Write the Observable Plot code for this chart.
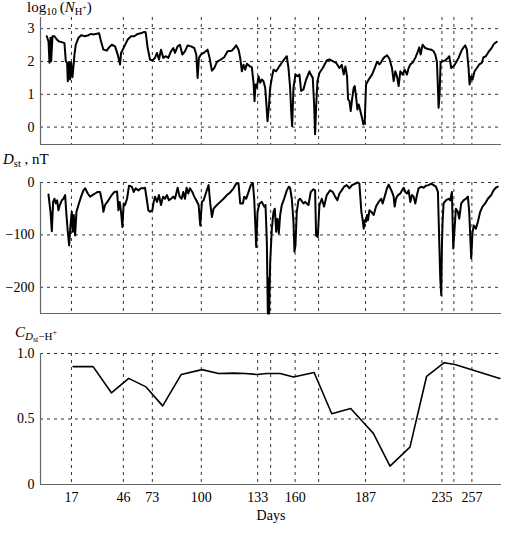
<!DOCTYPE html>
<html><head><meta charset="utf-8">
<script src="https://cdn.jsdelivr.net/npm/d3@7"></script>
<script src="https://cdn.jsdelivr.net/npm/@observablehq/plot@0.6"></script>
<style>body{margin:0;background:#fff;} #chart svg{display:block;}</style>
</head><body><div id="chart"></div>
<script>
// ---- data ----
const eventDays   = [18.6, 49.8, 67.2, 96.6, 130.5, 138.3, 153, 167.1, 195.3, 218.4, 241.2, 248.4, 259.2];
const eventLabels = ["17", "46", "73", "100", "133", "", "160", "", "187", "", "235", "", "257"];

const nhTicks  = [0, 1, 2, 3];
const dstTicks = [-200, -100, 0];
const corrTicks = [0, 0.5, 1];

const nhDays = [3.8,4.8,5.4,6.0,6.4,7.2,8.4,9.8,11.2,12.8,14.4,15.2,16.0,16.4,17.2,17.8,18.4,19.2,20.0,20.4,21.2,22.8,24.4,26.8,28.8,30.4,31.8,33.2,35.2,36.4,37.8,39.8,41.2,42.8,44.8,46.4,47.8,48.4,50.4,52.4,54.4,56.4,58.4,60.8,62.4,63.2,64.4,65.8,67.2,68.8,70.0,71.2,72.4,73.8,75.2,76.8,78.4,79.8,80.8,82.4,83.8,85.2,86.8,88.4,90.4,92.4,93.6,94.4,95.2,96.4,98,100.4,101.6,103,104.4,106,108.4,110.4,112.4,115,116.4,117.6,119,120,121,122,123,124,125.6,127,128,128.6,129.2,130,131,132,133,134,135,135.6,136.4,137.2,138,139,140,141.6,143.6,145.6,148,149,150,150.6,151.2,152,153.2,154.4,155.6,156.6,158,159.6,161.6,162.4,163.6,164.4,165,165.6,166.4,167.6,169.6,172,173.6,175.6,177.6,179.6,181,182.2,183.2,184.2,184.8,185.6,186.4,187.2,188.2,188.8,189.6,190.4,191.2,192.2,193.2,194,194.8,195.6,197.2,199.2,200.8,202.2,203.6,204.8,206.2,208.2,209.6,211.2,212.2,213.2,214.2,215.2,216.2,217.6,218.8,220.2,221.2,222.2,223.6,225.2,226.8,227.6,228.4,229.6,231.2,232.8,234.8,236.2,237.2,238.2,238.8,239.2,239.8,240.4,241.6,243.2,244.8,245.6,246.8,248.2,249.6,251.2,252.8,254.2,255.2,256.2,257.2,257.8,258.8,259.6,260.8,262.2,263.6,265.2,266.2,267.6,269.2,270.8,272.4,274.2];
const nhLog = [2.77,2.61,1.96,2.72,2.01,2.77,2.77,2.67,2.61,2.59,2.56,2.01,1.96,1.40,1.96,1.45,1.96,1.52,1.96,2.21,2.51,2.72,2.80,2.77,2.80,2.84,2.82,2.84,2.86,2.61,2.36,2.33,2.43,2.51,2.46,2.21,1.91,2.26,2.46,2.67,2.77,2.77,2.84,2.87,2.90,2.89,2.41,2.06,2.03,2.11,2.26,2.06,2.36,2.11,2.16,2.11,2.31,2.41,2.26,2.46,2.51,2.21,2.31,2.49,2.46,2.41,2.21,1.50,2.11,2.21,2.26,2.36,2.11,1.72,1.80,1.99,2.06,2.13,2.31,2.33,2.41,2.49,2.36,2.11,1.70,1.90,1.75,1.93,1.86,1.82,1.35,0.79,1.30,1.20,1.55,1.35,1.45,1.40,1.20,0.79,0.18,0.59,1.20,1.50,1.75,1.70,1.86,2.01,2.16,1.80,1.20,0.49,0.03,1.20,1.60,1.55,1.60,1.10,1.15,1.45,1.70,1.60,1.50,0.69,-0.22,0.59,1.40,1.65,1.80,2.03,2.06,2.01,1.96,1.80,1.90,1.60,1.85,1.55,0.84,0.81,0.49,0.84,1.20,1.25,0.94,0.54,0.69,0.49,0.28,0.08,0.13,1.30,1.45,1.60,1.80,1.99,1.91,1.99,2.11,2.19,2.09,1.80,1.40,1.70,1.55,1.25,1.70,1.60,1.75,1.60,1.80,1.91,1.96,2.11,2.31,2.43,2.21,2.51,2.41,2.38,2.36,2.31,2.21,1.99,1.20,0.59,1.00,1.96,2.01,2.03,2.11,2.16,1.80,1.85,1.96,2.11,2.31,2.43,2.49,2.36,1.80,1.30,1.55,1.45,1.70,1.80,1.91,1.96,2.13,2.16,2.29,2.39,2.53,2.60];

const dstDays = [4.8,6.0,6.8,7.6,8.4,9.2,10.0,10.8,11.6,12.8,13.8,14.8,15.6,16.4,17.2,18.0,18.8,19.4,20.0,20.8,21.6,22.8,24.4,25.8,26.8,28.4,29.8,31.2,32.8,34.4,35.8,37.2,37.8,38.8,40.8,42.8,44.4,46.0,46.8,47.6,48.4,49.2,50.0,50.8,52.0,53.2,54.8,56.0,57.2,58.8,60.4,61.8,62.8,63.8,64.8,65.8,67.2,68.0,68.8,70.0,71.2,72.4,73.6,74.8,76.0,77.2,78.4,79.8,80.8,82.4,83.6,84.8,85.8,86.8,87.8,88.8,89.8,91.2,92.4,93.6,95.0,96.0,97.0,98.0,99.6,101.0,102.0,103.0,104.0,106.0,108.0,110.0,112.0,114.0,115.0,116.0,117.6,119.0,120.0,121.6,122.4,123.6,125.0,126.4,127.6,128.4,129.0,129.6,130.4,131.6,133.0,134.4,135.2,136.0,136.6,137.0,137.4,138.0,139.0,140.0,140.8,141.6,142.4,143.2,144.0,145.0,146.4,148.0,149.2,150.0,151.0,152.0,152.6,153.2,154.0,155.0,156.0,158.0,159.0,160.0,161.0,162.4,164.0,165.0,165.6,166.6,167.6,169.0,170.4,172.0,174.0,175.6,177.0,178.4,179.6,181.0,182.4,184.0,185.6,187.2,189.2,190.8,191.6,192.8,193.6,194.2,194.8,195.6,196.2,196.8,197.6,198.8,200.2,201.6,203.2,204.8,205.6,206.8,208.2,209.2,210.2,211.2,212.2,212.8,213.6,214.8,216.2,217.2,218.2,219.2,220.2,221.2,222.2,223.2,224.2,225.2,226.2,227.2,228.8,230.2,231.6,233.2,234.8,236.2,237.6,238.8,239.6,240.2,240.8,241.2,241.6,242.2,243.6,245.2,246.2,247.2,248.0,248.8,249.6,250.8,251.6,252.8,254.2,255.6,256.8,257.6,258.2,258.8,259.6,260.4,261.6,262.8,264.2,265.6,267.2,268.8,270.8,272.2,273.6,274.8];
const dstValues = [-23,-56,-93,-37,-31,-40,-34,-53,-43,-34,-31,-24,-62,-94,-120,-82,-56,-94,-62,-101,-56,-43,-27,-15,-11,-21,-27,-24,-21,-18,-18,-40,-56,-43,-34,-24,-18,-17,-53,-37,-56,-85,-40,-43,-31,-6,-8,-18,-11,-15,-11,-11,-10,-31,-53,-56,-53,-37,-27,-37,-24,-43,-27,-31,-24,-34,-31,-27,-31,-10,-27,-31,-18,-31,-10,-21,-11,-18,-27,-34,-43,-82,-37,-34,-18,-5,-40,-66,-50,-43,-37,-31,-24,-19,-15,-11,-2,-2,-40,-40,-27,-31,-18,-5,-1,-31,-75,-123,-56,-40,-37,-46,-43,-113,-250,-183,-250,-152,-88,-56,-50,-94,-69,-97,-62,-43,-31,-15,-8,-11,-31,-75,-132,-120,-56,-34,-31,-40,-37,-40,-43,-18,-13,-15,-101,-104,-43,-31,-46,-24,-15,-18,-27,-34,-21,-15,-8,-5,-11,-5,-2,0,-2,-56,-72,-88,-72,-75,-62,-72,-53,-56,-62,-46,-37,-31,-40,-27,-11,-4,-11,-18,-27,-46,-31,-24,-21,-15,-10,-18,-21,-15,-37,-24,-27,-40,-24,-11,-8,-10,-6,-5,-2,-5,-8,-18,-113,-183,-215,-120,-75,-40,-34,-31,-34,-18,-126,-88,-50,-56,-69,-40,-34,-31,-27,-56,-101,-145,-94,-82,-88,-75,-56,-46,-40,-31,-24,-15,-10,-8];

const corrDays   = [19.6, 31.6, 42.6, 53, 63.4, 73.4, 84.6, 97, 107, 116, 123, 130, 136, 144, 152, 164.4, 175, 186.4, 195, 200, 210, 222, 232, 242.6, 249, 276];
const corrValues = [0.90, 0.90, 0.70, 0.81, 0.745, 0.60, 0.84, 0.877, 0.847, 0.85, 0.847, 0.84, 0.847, 0.847, 0.82, 0.855, 0.54, 0.58, 0.46, 0.39, 0.14, 0.285, 0.826, 0.93, 0.916, 0.81];

// ---- styling ----
const xDomain = [0, 277];
const grid = "#333", dash = "3,4", axisColor = "#666";
const serif = '"Liberation Serif", "Times New Roman", serif';
const common = {
  width: 510, marginLeft: 40, marginRight: 9,
  style: {fontFamily: serif, fontSize: "14px", background: "white", color: "black"}
};
const labeled = eventDays.filter((d, i) => eventLabels[i] !== "");
const labelByDay = new Map(eventDays.map((d, i) => [d, eventLabels[i]]));

function frameMarks(yMin, ticks, fmt) {
  return [
    Plot.ruleY(ticks, {stroke: grid, strokeDasharray: dash}),
    Plot.ruleX(eventDays, {stroke: grid, strokeDasharray: dash}),
    Plot.ruleX([xDomain[0]], {stroke: axisColor, strokeWidth: 1.2}),
    Plot.ruleY([yMin], {stroke: axisColor, strokeWidth: 1.2}),
    Plot.axisY({ticks, tickSize: 0, tickPadding: 6, fontSize: 14, label: null, tickFormat: fmt})
  ];
}

const nhDomain = [-0.53, 3.34];
const p1 = Plot.plot({
  ...common, height: 150, marginTop: 17, marginBottom: 6,
  x: {domain: xDomain, axis: null}, y: {domain: nhDomain},
  marks: [
    ...frameMarks(nhDomain[0], nhTicks, d => String(d)),
    Plot.line(nhDays, {x: nhDays, y: nhLog, stroke: "black", strokeWidth: 2})
  ]
});

const dstDomain = [-250, 0];
const p2 = Plot.plot({
  ...common, height: 168, marginTop: 32, marginBottom: 5,
  x: {domain: xDomain, axis: null}, y: {domain: dstDomain},
  marks: [
    ...frameMarks(dstDomain[0], dstTicks, d => d.toString().replace("-", "\u2212")),
    Plot.line(dstDays, {x: dstDays, y: dstValues, stroke: "black", strokeWidth: 2})
  ]
});

const p3 = Plot.plot({
  ...common, height: 216, marginTop: 35, marginBottom: 50,
  x: {domain: xDomain}, y: {domain: [0, 1]},
  marks: [
    ...frameMarks(0, corrTicks, d => d === 0 ? "0" : d.toFixed(1)),
    Plot.axisX({ticks: labeled, tickSize: 0, tickPadding: 8, fontSize: 14, label: null, tickFormat: d => labelByDay.get(d)}),
    Plot.text(["Days"], {frameAnchor: "bottom", dy: 31, lineAnchor: "middle", fontSize: 14}),
    Plot.line(corrDays, {x: corrDays, y: corrValues, stroke: "black", strokeWidth: 1.6})
  ]
});

const chart = document.getElementById("chart");
chart.append(p1, p2, p3);

// ---- panel titles with sub/superscripts ----
function title(svg, x, y, parts) {
  const t = d3.select(svg).append("text").attr("x", x).attr("y", y)
    .attr("text-anchor", "start")
    .attr("font-family", serif).attr("font-size", 15).attr("fill", "black");
  for (const [txt, opts] of parts) {
    const s = t.append("tspan").text(txt);
    if (opts.size) s.attr("font-size", opts.size);
    if (opts.dy) s.attr("dy", opts.dy);
    if (opts.italic) s.attr("font-style", "italic");
  }
}
title(p1, 27, 12, [
  ["log", {}], ["10", {size: 10.5, dy: 3}], ["\u2009(", {dy: -3}],
  ["N", {italic: true}], ["H", {size: 10.5, dy: 3}], ["+", {size: 8, dy: -5}], [")", {dy: 2}]
]);
title(p2, 3, 14, [
  ["D", {italic: true}], ["st", {size: 10.5, dy: 3}], [" , nT", {dy: -3}]
]);
title(p3, 15, 19, [
  ["C", {italic: true}], ["D", {size: 11, dy: 3, italic: true}], ["st", {size: 8, dy: 2}],
  ["\u2212H", {size: 11, dy: -2}], ["+", {size: 8, dy: -5}]
]);
</script></body></html>
